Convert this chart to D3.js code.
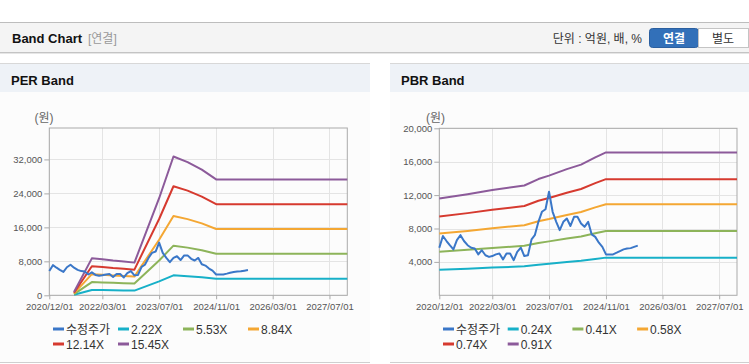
<!DOCTYPE html>
<html><head><meta charset="utf-8">
<script src="https://cdn.jsdelivr.net/npm/d3@7"></script>
<style>
body{margin:0;background:#fff;}
svg text{font-family:"Liberation Sans",Arial,"Noto Sans CJK KR",sans-serif;}
</style></head><body>
<svg id="c" width="749" height="364"></svg>
<script>
// ---------- DATA ----------
const xTickLabels = ["2020/12/01","2022/03/01","2023/07/01","2024/11/01","2026/03/01","2027/07/01"];
const xDomain = ["2020/12/01","2027/12/01"];
const priceStart = "2020/12/01"; // monthly values from this month
const priceValues = [5700,7100,6500,6000,5500,6600,7200,6500,6000,5700,5600,4900,
  5400,4800,4600,4700,4900,5000,4300,5000,5000,4200,5200,5700,
  4700,4800,6700,7200,8800,10000,10300,12400,10000,8800,7800,8800,
  9200,8300,9400,9400,8600,8200,8800,7300,7000,6300,5800,4900,
  4900,4900,5100,5300,5500,5600,5650,5800,5950];

const perNames = ["수정주가","2.22X","5.53X","8.84X","12.14X","15.45X"];
const perMultiples = [2.22,5.53,8.84,12.14,15.45];
const perEpsDates = ["2021/07/01","2021/12/01","2022/03/01","2022/06/01","2022/09/01","2022/12/01","2023/07/01","2023/11/01","2024/03/01","2024/07/01","2024/11/01","2027/12/01"];
const perEpsValues = [50,563,550,530,515,498,1480,2115,2030,1915,1767,1767];
const perYTicks = [0,8000,16000,24000,32000];

const pbrNames = ["수정주가","0.24X","0.41X","0.58X","0.74X","0.91X"];
const pbrMultiples = [0.24,0.41,0.58,0.74,0.91];
const pbrBpsDates = ["2020/12/01","2021/08/01","2022/03/01","2022/12/01","2023/04/01","2023/07/01","2023/12/01","2024/04/01","2024/08/01","2024/11/01","2027/12/01"];
const pbrBpsValues = [12750,13300,13850,14450,15300,15750,16600,17200,18150,18800,18800];
const pbrYTicks = [4000,8000,12000,16000,20000];

const seriesColors = ["#3a77c8","#17b0c8","#8db45a","#f4a733","#d63a2f","#8c5a9a"];

// ---------- DRAW ----------
const parse = d3.timeParse("%Y/%m/%d");
const svg = d3.select("#c");

// header bar
svg.append("rect").attr("x",0).attr("y",22).attr("width",749).attr("height",31).attr("fill","#f4f4f4");
svg.append("line").attr("x1",0).attr("x2",749).attr("y1",22.5).attr("y2",22.5).attr("stroke","#bdbdbd");
svg.append("line").attr("x1",0).attr("x2",749).attr("y1",52.5).attr("y2",52.5).attr("stroke","#c4c4c4");
svg.append("line").attr("x1",0).attr("x2",749).attr("y1",53.5).attr("y2",53.5).attr("stroke","#e6e6e6");
svg.append("text").attr("x",12).attr("y",43).attr("font-size",13).attr("font-weight","bold").attr("fill","#111").text("Band Chart");
svg.append("text").attr("x",88).attr("y",43).attr("font-size",12).attr("fill","#999").text("[연결]");
svg.append("text").attr("x",642).attr("y",43).attr("text-anchor","end").attr("font-size",12).attr("fill","#333").text("단위 : 억원, 배, %");
svg.append("rect").attr("x",649.5).attr("y",28.5).attr("width",49).attr("height",19).attr("rx",3).attr("fill","#3270b9").attr("stroke","#2b5f9f");
svg.append("text").attr("x",674).attr("y",42.5).attr("text-anchor","middle").attr("font-size",12).attr("font-weight","bold").attr("fill","#fff").text("연결");
svg.append("rect").attr("x",698.5).attr("y",28.5).attr("width",50).attr("height",19).attr("fill","#fff").attr("stroke","#c4c4c4");
svg.append("text").attr("x",723).attr("y",42.5).attr("text-anchor","middle").attr("font-size",12).attr("fill","#333").text("별도");

function panel(px, pw, title) {
  svg.append("rect").attr("x",px).attr("y",63).attr("width",pw).attr("height",300).attr("fill","#fcfcfc");
  svg.append("rect").attr("x",px).attr("y",63).attr("width",pw).attr("height",29).attr("fill","#eef2f7");
  svg.append("line").attr("x1",px).attr("x2",px+pw).attr("y1",63.5).attr("y2",63.5).attr("stroke","#d8d8d8");
  svg.append("line").attr("x1",px).attr("x2",px+pw).attr("y1",362.5).attr("y2",362.5).attr("stroke","#cfcfcf");
  svg.append("text").attr("x",px+11).attr("y",85).attr("font-size",13).attr("font-weight","bold").attr("fill","#111").text(title);
}
panel(0,370,"PER Band");
panel(390,359,"PBR Band");

function drawChart(o) {
  const g = svg.append("g");
  const x = d3.scaleTime().domain(xDomain.map(parse)).range([o.x0,o.x1]);
  const y = d3.scaleLinear().domain([0,o.yMax]).range([o.yBot,o.yTop]);
  const tickDates = xTickLabels.map(parse);
  // grid
  g.selectAll(".vg").data(tickDates).enter().append("line")
    .attr("x1",d=>Math.round(x(d))+0.5).attr("x2",d=>Math.round(x(d))+0.5)
    .attr("y1",o.yTop).attr("y2",o.yBot).attr("stroke","#e4e4e4");
  g.selectAll(".hg").data(o.yTicks).enter().append("line")
    .attr("x1",o.x0).attr("x2",o.x1)
    .attr("y1",d=>Math.round(y(d))+0.5).attr("y2",d=>Math.round(y(d))+0.5).attr("stroke","#e4e4e4");
  // axes
  const ya = g.append("g").attr("transform",`translate(${o.x0},0)`)
    .call(d3.axisLeft(y).tickValues(o.yTicks).tickSize(5).tickPadding(2).tickFormat(d3.format(",")));
  const xa = g.append("g").attr("transform",`translate(0,${o.yBot})`)
    .call(d3.axisBottom(x).tickValues(tickDates).tickSize(4).tickPadding(4).tickFormat(d3.timeFormat("%Y/%m/%d")));
  [ya,xa].forEach(a=>{
    a.select(".domain").remove();
    a.selectAll("line").attr("stroke","#aaa");
    a.selectAll("text").attr("fill","#555").attr("font-size",9.5).attr("font-family","Liberation Sans, Arial, sans-serif");
  });
  // border
  g.append("rect").attr("x",o.x0).attr("y",o.yTop).attr("width",o.x1-o.x0).attr("height",o.yBot-o.yTop)
    .attr("fill","none").attr("stroke","#aaa");
  // unit
  g.append("text").attr("x",o.unitX).attr("y",122).attr("text-anchor","middle").attr("font-size",12).attr("fill","#666").text("(원)");
  // bands
  const line = d3.line().x(d=>x(d[0])).y(d=>y(d[1]));
  const bDates = o.baseDates.map(parse);
  o.multiples.forEach((m,i)=>{
    const pts = bDates.map((d,j)=>[d, o.baseValues[j]*m]);
    g.append("path").datum(pts).attr("d",line).attr("fill","none")
      .attr("stroke",seriesColors[i+1]).attr("stroke-width",2).attr("stroke-linejoin","round");
  });
  // price
  const p0 = parse(priceStart);
  const pp = priceValues.map((v,i)=>[d3.timeMonth.offset(p0,i), v]);
  g.append("path").datum(pp).attr("d",line).attr("fill","none")
    .attr("stroke",seriesColors[0]).attr("stroke-width",2).attr("stroke-linejoin","round");
  // legend
  o.names.forEach((n,i)=>{
    const lx = o.legX + (i%4)*o.legStep, ly = 329 + Math.floor(i/4)*15;
    g.append("line").attr("x1",lx).attr("x2",lx+11).attr("y1",ly).attr("y2",ly)
      .attr("stroke",seriesColors[i]).attr("stroke-width",3);
    g.append("text").attr("x",lx+13).attr("y",ly+4.5).attr("font-size",12).attr("fill","#333").text(n);
  });
}

drawChart({x0:49.3,x1:347.3,yTop:128,yBot:295.3,yMax:39400,yTicks:perYTicks,
  multiples:perMultiples,baseDates:perEpsDates,baseValues:perEpsValues,names:perNames,
  unitX:44,legX:53,legStep:65});
drawChart({x0:439.3,x1:737,yTop:128.3,yBot:295.3,yMax:20000,yTicks:pbrYTicks,
  multiples:pbrMultiples,baseDates:pbrBpsDates,baseValues:pbrBpsValues,names:pbrNames,
  unitX:435.5,legX:443,legStep:64.7});
</script>
</body></html>
